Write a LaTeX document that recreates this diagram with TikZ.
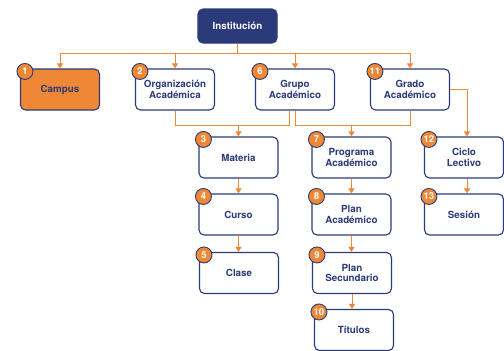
\documentclass[tikz,border=0pt]{standalone}
\usepackage{fontspec}
\setmainfont{TeX Gyre Heros}
\usetikzlibrary{arrows.meta}
\definecolor{navy}{HTML}{2B3A78}
\definecolor{orng}{HTML}{EE8834}
\begin{document}
\begin{tikzpicture}[x=1pt,y=-1pt,
 box/.style={draw=navy, line width=1.1pt, rounded corners=5pt, fill=white, minimum width=79pt, minimum height=41pt, text=navy, font=\bfseries\fontsize{9.8}{10.4}\selectfont, align=center, inner sep=0pt},
 badge/.style={circle, draw=navy, line width=0.9pt, fill=orng, text=white, font=\bfseries\fontsize{9.5}{9.5}\selectfont, minimum size=16pt, inner sep=0pt},
 conn/.style={draw=orng, line width=0.9pt},
 arr/.style={conn, -{Triangle[width=6pt,length=5pt]}}
]
\useasboundingbox (0,0) rectangle (504,351);
\node[box, fill=navy, text=white, minimum height=34pt] (inst) at (237.5,26) {Institución};
\node[box, fill=orng] (campus) at (60,89.5) {Campus};
\node[box] (org) at (175,89.5) {Organización\\Académica};
\node[box] (grupo) at (295,89.5) {Grupo\\Académico};
\node[box] (grado) at (410,89.5) {Grado\\Académico};
\node[box] (materia) at (238.5,157.5) {Materia};
\node[box] (curso) at (238.5,214.5) {Curso};
\node[box] (clase) at (239,273) {Clase};
\node[box] (prog) at (351.5,157.5) {Programa\\Académico};
\node[box] (planac) at (351.5,214.5) {Plan\\Académico};
\node[box] (plansec) at (352,273) {Plan\\Secundario};
\node[box] (titulos) at (354,330) {Títulos};
\node[box] (ciclo) at (464,157.5) {Ciclo\\Lectivo};
\node[box] (sesion) at (464,214.5) {Sesión};
% connectors
\coordinate (bus) at (237.5,53);
\coordinate (lv) at (0,125);
\draw[conn] (inst.south) -- (bus);
\draw[arr] (bus) -| (campus.north);
\draw[arr] (bus) -| (org.north);
\draw[arr] (bus) -| (grupo.north);
\draw[arr] (bus) -| (grado.north);
\draw[conn] (org.south) |- ([xshift=-6pt]grupo.south |- lv) -- ([xshift=-6pt]grupo.south);
\draw[arr] (materia.north |- lv) -- (materia.north);
\draw[conn] (grupo.south) |- (grado.south |- lv) -- (grado.south);
\draw[arr] (prog.north |- lv) -- (prog.north);
\draw[arr] (grado.east) -| ([xshift=3pt]ciclo.north);
\draw[arr] (materia.south) -- (curso.north);
\draw[arr] (curso.south) -- (curso.south |- clase.north);
\draw[arr] (prog.south) -- (planac.north);
\draw[arr] (planac.south) -- (planac.south |- plansec.north);
\draw[arr] (plansec.south) -- (plansec.south |- titulos.north);
\draw[arr] ([xshift=3pt]ciclo.south) -- ([xshift=3pt]sesion.north);
% badges
\foreach \n/\t in {campus/1, org/2, materia/3, curso/4, clase/5, grupo/6, prog/7, planac/8, plansec/9, titulos/10, grado/11, ciclo/12, sesion/13}
  \node[badge] (b\t) at ([xshift=5pt,yshift=-3pt]\n.north west) {\t};
\end{tikzpicture}
\end{document}
